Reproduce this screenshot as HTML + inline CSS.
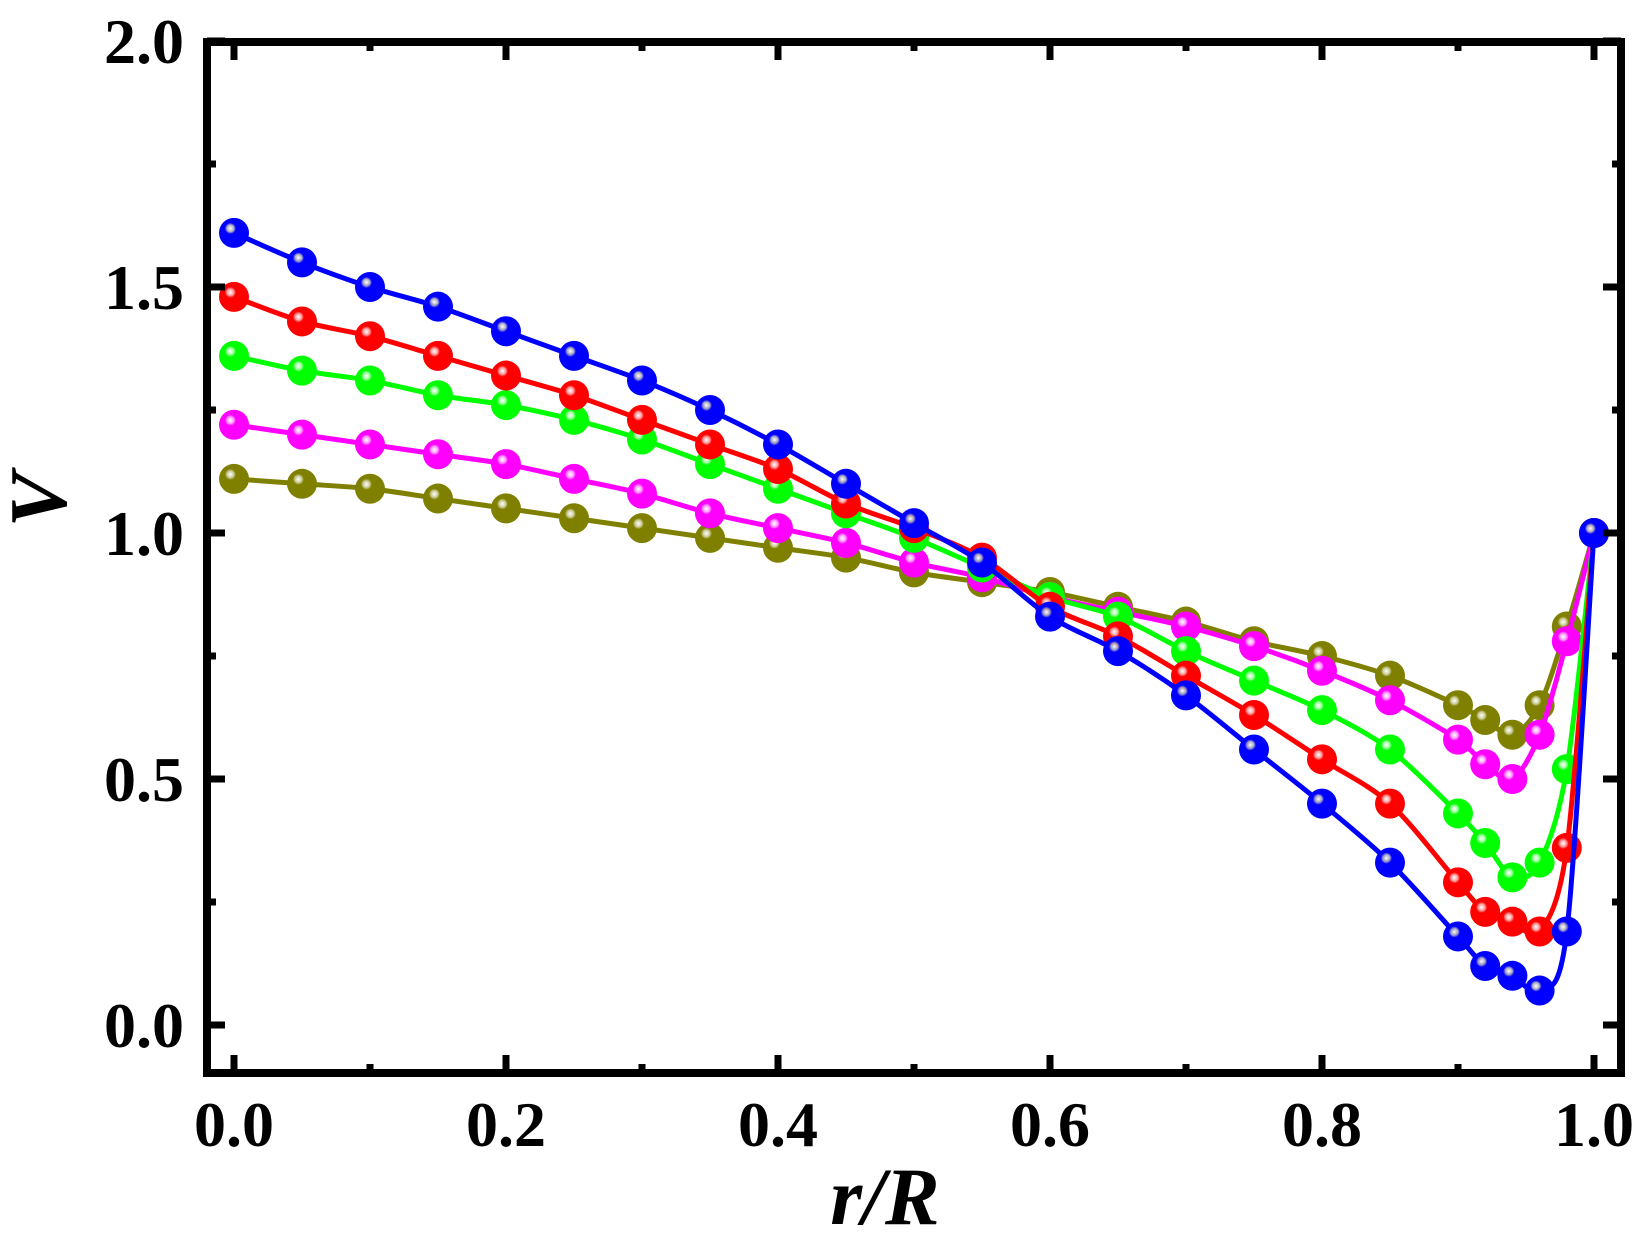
<!DOCTYPE html>
<html><head><meta charset="utf-8"><style>
html,body{margin:0;padding:0;background:#fff;}
svg{display:block;}
text{font-family:"Liberation Serif",serif;font-weight:bold;fill:#000;}
</style></head><body>
<svg id="s" width="1641" height="1238" viewBox="0 0 1641 1238" xmlns="http://www.w3.org/2000/svg">
<defs>
<radialGradient id="gb" cx="0.38" cy="0.35" r="0.62"><stop offset="0" stop-color="#fff"/><stop offset="0.18" stop-color="#aab" stop-opacity="0.9"/><stop offset="0.3" stop-color="#00f"/><stop offset="1" stop-color="#00f"/></radialGradient>
<radialGradient id="gr" cx="0.38" cy="0.35" r="0.62"><stop offset="0" stop-color="#fff"/><stop offset="0.18" stop-color="#f99"/><stop offset="0.3" stop-color="#f00"/><stop offset="1" stop-color="#f00"/></radialGradient>
<radialGradient id="gg" cx="0.38" cy="0.35" r="0.62"><stop offset="0" stop-color="#fff"/><stop offset="0.18" stop-color="#9f9"/><stop offset="0.3" stop-color="#0f0"/><stop offset="1" stop-color="#0f0"/></radialGradient>
<radialGradient id="gm" cx="0.38" cy="0.35" r="0.62"><stop offset="0" stop-color="#fff"/><stop offset="0.18" stop-color="#f9f"/><stop offset="0.3" stop-color="#f0f"/><stop offset="1" stop-color="#f0f"/></radialGradient>
<radialGradient id="go" cx="0.38" cy="0.35" r="0.62"><stop offset="0" stop-color="#fff"/><stop offset="0.18" stop-color="#cc9"/><stop offset="0.3" stop-color="#808000"/><stop offset="1" stop-color="#808000"/></radialGradient>
</defs>
<g id="plot"></g>
<rect x="207" y="42" width="1414" height="1031" fill="none" stroke="#000" stroke-width="8"/>
<g id="ticks" stroke="#000" stroke-width="7"></g>
<g font-size="64" text-anchor="end">
<text x="184" y="1047">0.0</text>
<text x="184" y="801">0.5</text>
<text x="184" y="555">1.0</text>
<text x="184" y="309">1.5</text>
<text x="184" y="63">2.0</text>
</g>
<g font-size="64" text-anchor="middle">
<text x="234" y="1146">0.0</text>
<text x="506" y="1146">0.2</text>
<text x="778" y="1146">0.4</text>
<text x="1050" y="1146">0.6</text>
<text x="1322" y="1146">0.8</text>
<text x="1594" y="1146">1.0</text>
</g>
<text x="885" y="1224" font-size="82" font-style="italic" text-anchor="middle">r/R</text>
<text transform="translate(66,500) rotate(-90)" font-size="82" font-style="italic" text-anchor="middle">V</text>
</svg>
<script>
var ns="http://www.w3.org/2000/svg";
function X(v){return 234+v*1360;}function Y(v){return 1025-v*492;}
var xs=[0,0.05,0.1,0.15,0.2,0.25,0.3,0.35,0.4,0.45,0.5,0.55,0.6,0.65,0.7,0.75,0.8,0.85,0.9,0.92,0.94,0.96,0.98,1.0];
var S=[
["#808000","go",[1.11,1.10,1.09,1.07,1.05,1.03,1.01,0.99,0.97,0.95,0.92,0.90,0.88,0.85,0.82,0.78,0.75,0.71,0.65,0.62,0.59,0.65,0.81,1.0]],
["#ff00ff","gm",[1.22,1.20,1.18,1.16,1.14,1.11,1.08,1.04,1.01,0.98,0.94,0.91,0.87,0.84,0.81,0.77,0.72,0.66,0.58,0.53,0.50,0.59,0.78,1.0]],
["#00ff00","gg",[1.36,1.33,1.31,1.28,1.26,1.23,1.19,1.14,1.09,1.04,0.99,0.93,0.87,0.83,0.76,0.70,0.64,0.56,0.43,0.37,0.30,0.33,0.52,1.0]],
["#ff0000","gr",[1.48,1.43,1.40,1.36,1.32,1.28,1.23,1.18,1.13,1.06,1.01,0.95,0.85,0.79,0.71,0.63,0.54,0.45,0.29,0.23,0.21,0.19,0.36,1.0]],
["#0000ff","gb",[1.61,1.55,1.50,1.46,1.41,1.36,1.31,1.25,1.18,1.10,1.02,0.94,0.83,0.76,0.67,0.56,0.45,0.33,0.18,0.12,0.10,0.07,0.19,1.0]]];
var g=document.getElementById("plot");
S.forEach(function(s){
 var p=xs.map(function(x,i){return [X(x),Y(s[2][i])];});
 var d="M"+p[0][0]+","+p[0][1];
 for(var i=0;i<p.length-1;i++){
  var p0=p[Math.max(i-1,0)],p1=p[i],p2=p[i+1],p3=p[Math.min(i+2,p.length-1)],t=0.15;
  d+=" C"+(p1[0]+(p2[0]-p0[0])*t)+","+(p1[1]+(p2[1]-p0[1])*t)+" "+(p2[0]-(p3[0]-p1[0])*t)+","+(p2[1]-(p3[1]-p1[1])*t)+" "+p2[0]+","+p2[1];
 }
 var pa=document.createElementNS(ns,"path");pa.setAttribute("d",d);pa.setAttribute("fill","none");pa.setAttribute("stroke",s[0]);pa.setAttribute("stroke-width","5");g.appendChild(pa);
 p.forEach(function(q){var c=document.createElementNS(ns,"circle");c.setAttribute("cx",q[0]);c.setAttribute("cy",q[1]);c.setAttribute("r","15");c.setAttribute("fill","url(#"+s[1]+")");g.appendChild(c);});
});
var t=document.getElementById("ticks");
function ln(a,b,c,d){var l=document.createElementNS(ns,"line");l.setAttribute("x1",a);l.setAttribute("y1",b);l.setAttribute("x2",c);l.setAttribute("y2",d);t.appendChild(l);}
for(var i=0;i<=10;i++){var x=X(i*0.1),L=(i%2==0)?18:9;ln(x,1073,x,1073-L);ln(x,42,x,42+L);}
for(var i=0;i<=8;i++){var y=Y(i*0.25),L=(i%2==0)?18:9;ln(207,y,207+L,y);ln(1621,y,1621-L,y);}
</script>
</body></html>
